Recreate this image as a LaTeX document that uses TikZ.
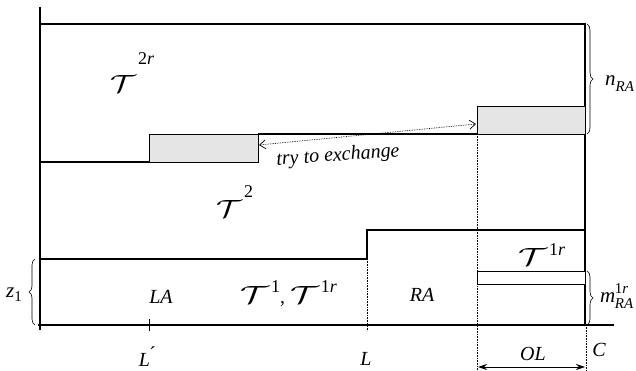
\documentclass[tikz,border=0pt]{standalone}
\usepackage{fontspec}
\setmainfont{Liberation Serif}
\usetikzlibrary{arrows.meta,decorations.pathreplacing}
\newcommand{\calTsym}[2]{\scalebox{#2}[1]{\fontsize{#1}{#1}\selectfont$\mathcal{T}$}}
\newcommand{\supr}[2]{\hspace{2pt}\raisebox{#1}{\fontsize{18}{18}\selectfont #2}}
\tikzset{
  main/.style={line width=1.3pt},
  graybox/.style={line width=1.4pt, fill=black!10},
  guide/.style={densely dotted, line width=0.6pt},
  lbl/.style={font=\fontsize{20}{22}\selectfont\itshape, inner sep=0pt},
  tlbl/.style={inner sep=0pt, anchor=base west},
  brace/.style={decorate, decoration={brace, amplitude=6pt}, line width=0.6pt}
}
\begin{document}
\begin{tikzpicture}[x=1pt,y=-1pt]
\useasboundingbox (0,0) rectangle (636,371);
% axes
\coordinate (ax0) at (40,7);
\coordinate (ax1) at (40,330);
\draw[main] (ax0) -- (ax1);
\coordinate (b0) at (38,325);
\coordinate (b1) at (614,325);
\draw[main] (b0) -- (b1);
% frame
\coordinate (tl) at (40,24);
\coordinate (tr) at (585,24);
\coordinate (br) at (585,325);
\draw[main] (tl) -- (tr) -- (br);
% T2r boundary
\coordinate (s0) at (40,162);
\coordinate (s1) at (149,162);
\draw[main] (s0) -- (s1);
\node[graybox, draw, minimum width=109pt, minimum height=28pt, inner sep=0pt, anchor=north west] (gl) at (149,134) {};
\coordinate (m0) at (258,134);
\coordinate (m1) at (477,134);
\draw[main] (m0) -- (m1);
\node[graybox, draw, minimum width=108pt, minimum height=28pt, inner sep=0pt, anchor=north west] (gr) at (477,106) {};
% T1 boundary
\coordinate (u0) at (40,259);
\coordinate (u1) at (367,259);
\coordinate (u2) at (367,230);
\coordinate (u3) at (585,230);
\draw[main] (u0) -- (u1) -- (u2) -- (u3);
% small rect
\node[draw, line width=1.3pt, fill=white, minimum width=108pt, minimum height=13pt, inner sep=0pt, anchor=north west] (sr) at (477,271) {};
% guides
\coordinate (gL0) at (367,259);
\coordinate (gL1) at (367,331);
\draw[guide] (gL0) -- (gL1);
\coordinate (gO0) at (477,134);
\coordinate (gO1) at (477,371);
\draw[guide] (gO0) -- (gO1);
\coordinate (gC0) at (586,325);
\coordinate (gC1) at (586,371);
\draw[guide] (gC0) -- (gC1);
% tick L'
\coordinate (tk0) at (149,319);
\coordinate (tk1) at (149,331);
\draw[line width=0.6pt] (tk0) -- (tk1);
% OL arrow
\coordinate (ol0) at (478,367);
\coordinate (ol1) at (585,367);
\draw[line width=0.9pt, {Stealth[length=9pt,width=6pt]}-{Stealth[length=9pt,width=6pt]}] (ol0) -- (ol1);
% exchange arrow
\coordinate (ex0) at (259,145);
\coordinate (ex1) at (476,124);
\draw[densely dotted, line width=0.7pt, {Straight Barb[length=6pt,width=9pt]}-{Straight Barb[length=6pt,width=9pt]}] (ex0) -- (ex1);
\node[lbl, rotate=4] (ex) at (338,156) {try to exchange};
% braces
\coordinate (nb0) at (587,24);
\coordinate (nb1) at (587,134);
\draw[brace] (nb0) -- (nb1);
\node[inner sep=0pt, anchor=base west] (nra) at (605,86) {\fontsize{21}{21}\selectfont\textit{n}\raisebox{-6pt}{\fontsize{15}{15}\selectfont\textit{RA}}};
\coordinate (mb0) at (587,271);
\coordinate (mb1) at (587,325);
\draw[brace] (mb0) -- (mb1);
\node[inner sep=0pt, anchor=base west] (mra) at (600,302) {\fontsize{21}{21}\selectfont\textit{m}\hspace{-0.5pt}\makebox[0pt][l]{\raisebox{9pt}{\fontsize{15}{15}\selectfont 1\textit{r}}}\raisebox{-6pt}{\fontsize{15}{15}\selectfont\textit{RA}}};
\coordinate (zb0) at (35,325);
\coordinate (zb1) at (35,259);
\draw[brace] (zb0) -- (zb1);
\node[inner sep=0pt, anchor=base west] (z1) at (6,297) {\fontsize{21}{21}\selectfont\textit{z}\raisebox{-4pt}{\fontsize{15}{15}\selectfont 1}};
% region labels
\node[tlbl] (t2r) at (110,93) {\calTsym{33}{1.3}\supr{28pt}{2\textit{r}}};
\node[tlbl] (t2) at (216,217) {\calTsym{35}{1.3}\supr{19pt}{2}};
\node[tlbl] (t1) at (240,303) {\calTsym{26}{1.45}\supr{11pt}{1}{\fontsize{20}{20}\selectfont, }\calTsym{26}{1.45}\supr{11pt}{1\textit{r}}};
\node[tlbl] (t1r) at (518,265) {\calTsym{26}{1.45}\supr{10pt}{1\textit{r}}};
\node[lbl] (la) at (161,297) {LA};
\node[lbl] (ra) at (422,295) {RA};
\node[lbl] (lp) at (147,357) {L\raisebox{2pt}{\textup{\'{}}}};
\node[lbl] (l) at (366,359) {L};
\node[lbl] (ol) at (533,354) {OL};
\node[lbl] (c) at (599,350) {C};
\end{tikzpicture}
\end{document}
